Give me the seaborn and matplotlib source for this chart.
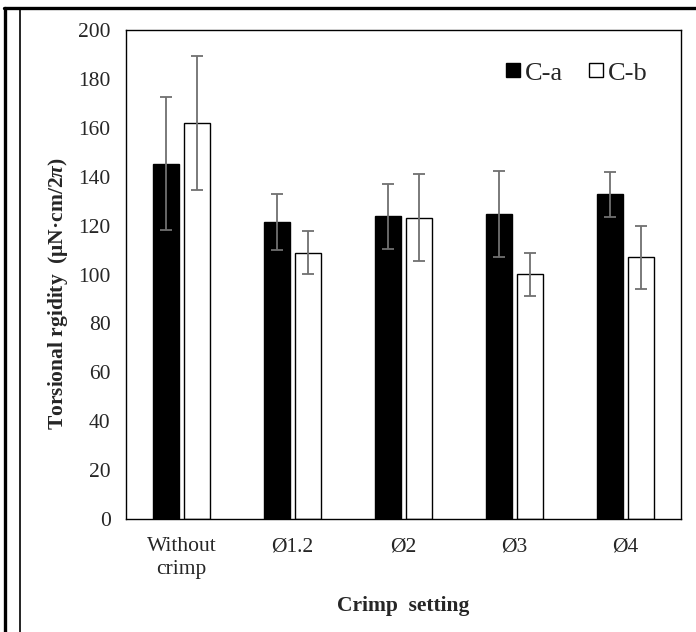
import matplotlib
matplotlib.use("Agg")
import matplotlib.pyplot as plt
from matplotlib.lines import Line2D
import seaborn as sns
import pandas as pd
import numpy as np

categories = ["Without\ncrimp", "Ø1.2", "Ø2", "Ø3", "Ø4"]
series_names = ["C-a", "C-b"]
ca_values = [145.3, 121.5, 123.8, 124.9, 132.8]
ca_errors = [27.2, 11.6, 13.3, 17.6, 9.1]
cb_values = [162.0, 108.9, 123.2, 100.1, 107.0]
cb_errors = [27.4, 8.8, 17.8, 8.8, 13.0]
y_ticks = [0, 20, 40, 60, 80, 100, 120, 140, 160, 180, 200]

df = pd.DataFrame({
    "setting": categories * 2,
    "series": [series_names[0]] * len(categories) + [series_names[1]] * len(categories),
    "value": ca_values + cb_values,
})

sns.set_theme(style="white")
plt.rcParams["font.family"] = ["Liberation Serif", "DejaVu Serif"]
plt.rcParams["mathtext.fontset"] = "custom"
plt.rcParams["mathtext.it"] = "Liberation Serif:italic:bold"
plt.rcParams["mathtext.rm"] = "Liberation Serif:bold"

fig = plt.figure(figsize=(6.96, 6.32), dpi=100)
ax = fig.add_axes([126 / 696, 113 / 632, 555 / 696, 489 / 632])

sns.barplot(data=df, x="setting", y="value", hue="series", order=categories,
            hue_order=series_names, palette={"C-a": "black", "C-b": "white"},
            saturation=1, edgecolor="black", linewidth=1.0, width=0.56, gap=0.18,
            errorbar=None, legend=False, ax=ax)

for cont, errs in zip(ax.containers, [ca_errors, cb_errors]):
    xs = [b.get_x() + b.get_width() / 2 for b in cont]
    ys = [b.get_height() for b in cont]
    ax.errorbar(xs, ys, yerr=errs, fmt="none", ecolor="#707070",
                elinewidth=1.3, capsize=4, capthick=1.3, zorder=5)

ax.set_ylim(0, 200)
ax.set_xlim(-0.5, 4.5)
ax.set_yticks(y_ticks)
ax.tick_params(axis="y", direction="in", length=5, width=1, pad=11, labelsize=15.5, color="black")
ax.tick_params(axis="x", length=0, pad=13, labelsize=15.5)
for lbl in ax.get_xticklabels():
    lbl.set_linespacing(1.3)
for s in ax.spines.values():
    s.set_color("black")
    s.set_linewidth(1.0)

ax.set_xlabel("Crimp  setting", fontsize=15.5, fontweight="bold", labelpad=12)
ax.set_ylabel(r"Torsional rgidity  (μN·cm/2$\pi$)", fontsize=15.5, fontweight="bold")
ax.yaxis.set_label_coords(-0.101, 0.462)

handles = [Line2D([], [], marker="s", linestyle="none", markersize=10,
                  markerfacecolor=c, markeredgecolor="black", markeredgewidth=1)
           for c in ["black", "white"]]
ax.legend(handles, series_names, ncol=2, frameon=False, fontsize=19,
          loc="upper right", bbox_to_anchor=(0.982, 0.985),
          handletextpad=0.1, columnspacing=0.9, handlelength=0.7)

fig.add_artist(Line2D([4 / 696, 1], [1 - 8 / 632, 1 - 8 / 632], transform=fig.transFigure,
                      color="black", linewidth=2.4))
fig.add_artist(Line2D([5 / 696, 5 / 696], [0, 1 - 8 / 632], transform=fig.transFigure,
                      color="black", linewidth=2.4))
fig.add_artist(Line2D([20 / 696, 20 / 696], [0, 1 - 10 / 632], transform=fig.transFigure,
                      color="black", linewidth=1.2))

fig.savefig("out.png", dpi=100)
